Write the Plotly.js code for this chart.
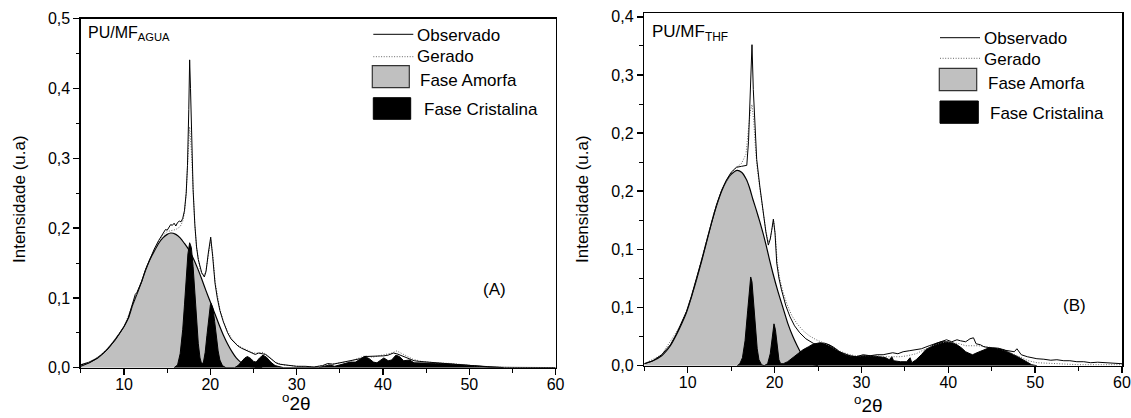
<!DOCTYPE html>
<html>
<head>
<meta charset="utf-8">
<script src="https://cdn.plot.ly/plotly-3.0.1.min.js"></script>
<style>html,body{margin:0;padding:0;background:#fff;}#chart{width:1131px;height:418px;}</style>
</head>
<body>
<div id="chart"></div>
<script>
// ---------- Panel A : PU/MF AGUA ----------
const amorfaA_x = [5,6,7,8,9,10,10.5,11,11.5,12,12.5,13,13.5,14,14.5,15,15.4,16,16.5,17,17.5,18,18.5,19,19.5,20,20.5,21,21.5,22,22.5,23,23.5,24,24.5,25,26];
const amorfaA_y = [0.004,0.008,0.015,0.026,0.041,0.059,0.071,0.090,0.106,0.122,0.140,0.155,0.167,0.178,0.186,0.191,0.193,0.191,0.186,0.178,0.169,0.157,0.143,0.127,0.110,0.094,0.078,0.062,0.047,0.034,0.023,0.014,0.008,0.004,0.002,0.001,0];

const cristA_x = [15.8,16.2,16.5,16.8,17.0,17.2,17.4,17.6,17.8,18.0,18.2,18.4,18.6,18.8,19.0,19.2,19.4,19.6,19.8,20.0,20.1,20.3,20.5,20.7,20.9,21.1,21.4,21.8,22.8,23.2,23.6,24.0,24.3,24.7,25.0,25.3,25.7,26.1,26.5,27.0,27.5,28.0,28.5,32.5,33.2,33.8,34.4,35.0,35.6,36.2,36.8,37.4,37.9,38.4,38.9,39.3,39.7,40.1,40.6,41.0,41.5,41.9,42.4,42.8,43.1,43.6,44.2,45,46,47,48,49,50,51,52,53,54];
const cristA_y = [0,0.004,0.02,0.055,0.09,0.13,0.163,0.179,0.172,0.145,0.105,0.066,0.035,0.014,0.005,0.008,0.022,0.046,0.074,0.090,0.092,0.085,0.066,0.044,0.024,0.011,0.003,0,0,0.003,0.009,0.014,0.016,0.013,0.009,0.008,0.014,0.018,0.015,0.008,0.003,0.001,0,0,0.002,0.004,0.002,0.004,0.007,0.008,0.008,0.012,0.016,0.013,0.008,0.007,0.011,0.014,0.010,0.011,0.018,0.016,0.010,0.011,0.011,0.007,0.007,0.007,0.006,0.006,0.005,0.004,0.003,0.002,0.001,0.0005,0];

const obsA_x = [5,6,7,8,9,10,10.5,11,11.3,11.5,11.7,12,12.5,13,13.5,14,14.5,14.8,15.0,15.2,15.4,15.6,15.8,16.0,16.2,16.4,16.6,16.8,17.0,17.2,17.35,17.5,17.6,17.7,17.8,17.9,18.0,18.2,18.4,18.6,18.8,19.0,19.3,19.5,19.76,20.04,20.27,20.54,20.8,21.1,21.5,22.0,22.4,22.8,23.2,23.6,24.0,24.4,24.8,25.2,25.6,26.0,26.4,26.8,27.2,27.6,28.0,28.5,29,30,31,32,33,33.6,34.2,35,35.8,36.6,37.4,37.9,38.5,39.1,39.6,40.1,40.6,41.2,41.6,42.0,42.5,43.0,43.6,44.2,45.2,46.4,47.6,48.8,50,51,52.3,54,56,58,60];
const obsA_y = [0.002,0.007,0.014,0.025,0.040,0.059,0.072,0.091,0.105,0.108,0.113,0.122,0.141,0.157,0.170,0.182,0.192,0.198,0.197,0.202,0.205,0.204,0.207,0.203,0.208,0.210,0.209,0.214,0.225,0.250,0.29,0.37,0.441,0.40,0.34,0.29,0.255,0.205,0.173,0.155,0.145,0.136,0.130,0.138,0.164,0.187,0.159,0.121,0.100,0.082,0.066,0.050,0.041,0.036,0.031,0.028,0.026,0.024,0.021,0.019,0.021,0.020,0.019,0.015,0.011,0.007,0.005,0.004,0.003,0.002,0.002,0.001,0.003,0.006,0.005,0.007,0.009,0.010,0.013,0.016,0.016,0.017,0.016,0.017,0.018,0.021,0.020,0.018,0.015,0.013,0.010,0.009,0.008,0.007,0.006,0.005,0.003,0.002,0.001,0.0005,0.0003,0.0002,0.0002];

const gerA_x = [5,6,7,8,9,10,11,12,13,14,14.5,15,15.5,16,16.5,16.8,17.0,17.2,17.4,17.6,17.8,18.0,18.2,18.4,18.6,18.8,19.0,19.3,19.5,19.8,20.05,20.3,20.55,21.1,21.5,22.0,22.4,23.0,23.6,24.3,25.0,25.6,26.1,26.8,27.5,28.5,30,32,33.8,35,36.2,37.9,38.8,39.5,40.1,41.0,41.6,42.2,42.8,43.5,44.5,46,48,50,52,55,60];
const gerA_y = [0.003,0.008,0.015,0.026,0.041,0.059,0.090,0.122,0.156,0.181,0.190,0.195,0.197,0.198,0.202,0.210,0.222,0.25,0.30,0.345,0.31,0.25,0.205,0.172,0.153,0.142,0.135,0.132,0.140,0.167,0.183,0.160,0.123,0.084,0.067,0.052,0.043,0.034,0.029,0.025,0.021,0.021,0.022,0.016,0.008,0.004,0.002,0.001,0.005,0.007,0.009,0.017,0.015,0.017,0.018,0.021,0.024,0.020,0.016,0.012,0.009,0.007,0.006,0.003,0.001,0.0003,0.0001];

// ---------- Panel B : PU/MF THF ----------
const amorfaB_x = [5,6,7,8,8.7,9.3,9.84,10.4,11,11.6,12.14,12.7,13.3,13.9,14.44,15,15.7,16.2,16.74,17.1,17.5,17.9,18.28,18.7,19.05,19.4,19.8,20.4,20.97,21.5,22.12,22.6,23.08,23.5,24,24.5,25];
const amorfaB_y = [0.002,0.005,0.010,0.020,0.031,0.042,0.053,0.068,0.086,0.105,0.123,0.142,0.160,0.175,0.185,0.192,0.196,0.194,0.187,0.179,0.167,0.156,0.145,0.132,0.120,0.107,0.093,0.074,0.058,0.043,0.029,0.020,0.012,0.007,0.003,0.001,0];

const cristB_x = [15.7,16.0,16.3,16.6,16.9,17.1,17.25,17.4,17.6,17.8,18.0,18.2,18.5,18.8,19.2,19.5,19.75,19.93,20.1,20.3,20.5,20.7,21.0,21.5,22.1,22.7,23.27,23.9,24.4,25.2,25.8,26.3,26.9,27.5,28.1,28.7,29.4,30.2,31.0,32.1,32.8,33.2,33.5,33.7,34.5,35.2,35.6,35.8,36.3,36.9,37.4,38.0,38.5,39.2,39.9,40.5,41.0,41.5,42.0,42.5,42.8,43.3,44.1,44.7,45.2,45.8,46.4,47.0,47.5,48.0,48.6,49.1,49.6,50.2];
const cristB_y = [0,0.002,0.008,0.025,0.055,0.078,0.089,0.084,0.062,0.036,0.017,0.006,0.001,0,0.002,0.012,0.033,0.042,0.036,0.017,0.006,0.002,0.002,0.004,0.008,0.012,0.016,0.019,0.0215,0.023,0.0225,0.021,0.018,0.014,0.011,0.0095,0.009,0.010,0.010,0.009,0.008,0.006,0.009,0.005,0.004,0.004,0.008,0.003,0.006,0.011,0.016,0.019,0.022,0.024,0.024,0.023,0.021,0.018,0.014,0.012,0.011,0.013,0.016,0.018,0.018,0.0175,0.016,0.013,0.011,0.009,0.006,0.003,0.001,0];

const obsB_x = [5,6,7,8,8.7,9.3,9.84,10.4,11,11.6,12.14,12.7,13.3,13.9,14.44,15,15.6,16.2,16.8,17.0,17.17,17.3,17.4,17.55,17.74,17.94,18.3,18.7,19.0,19.28,19.5,19.67,19.86,20.05,20.25,20.5,20.8,21.3,21.78,22.3,22.9,23.6,24.45,25.2,26.0,26.8,27.4,27.9,28.7,29.4,30.2,31.0,31.8,32.5,33.0,33.6,34.2,34.8,35.5,36.3,36.9,37.8,38.4,39.2,39.8,40.4,41.0,41.4,42.0,42.5,42.9,43.2,43.7,44.1,44.8,45.6,46.4,47.1,47.6,47.9,48.4,49.1,50.2,51.0,51.8,52.5,53.3,54.0,54.8,55.6,56.4,57.2,58.0,58.8,59.4,60];
const obsB_y = [0.002,0.005,0.011,0.021,0.032,0.043,0.054,0.069,0.087,0.106,0.124,0.143,0.161,0.176,0.186,0.194,0.199,0.200,0.201,0.225,0.267,0.307,0.322,0.277,0.234,0.207,0.180,0.153,0.134,0.121,0.127,0.136,0.147,0.133,0.103,0.088,0.076,0.060,0.049,0.040,0.033,0.027,0.0225,0.020,0.0175,0.016,0.014,0.0125,0.010,0.009,0.011,0.010,0.011,0.011,0.012,0.013,0.012,0.014,0.015,0.016,0.017,0.020,0.022,0.024,0.026,0.024,0.026,0.025,0.024,0.027,0.028,0.022,0.021,0.019,0.018,0.017,0.016,0.015,0.014,0.017,0.011,0.009,0.007,0.0065,0.0055,0.006,0.005,0.005,0.004,0.004,0.003,0.0035,0.003,0.0025,0.002,0.002];

const gerB_x = [5,7,9,10,11,12,13,14,15,15.6,16.2,16.7,17.0,17.2,17.4,17.6,17.8,18.0,18.3,18.7,19.0,19.28,19.5,19.7,19.9,20.1,20.3,20.6,21.0,21.5,22.0,22.6,23.3,24.0,24.8,25.6,26.5,27.4,28.3,29.2,30.2,31.5,32.8,33.6,34.5,35.3,36.3,37.2,38.2,39.2,39.9,40.6,41.3,42.0,42.8,43.5,44.3,45.2,46.2,47.2,48.2,49.2,50.2,52,55,60];
const gerB_y = [0.002,0.011,0.038,0.058,0.087,0.120,0.153,0.178,0.193,0.199,0.203,0.212,0.235,0.255,0.262,0.245,0.218,0.198,0.178,0.152,0.135,0.124,0.127,0.137,0.145,0.130,0.104,0.087,0.073,0.060,0.050,0.042,0.035,0.030,0.026,0.023,0.019,0.015,0.012,0.010,0.010,0.010,0.009,0.009,0.009,0.010,0.012,0.016,0.020,0.023,0.024,0.023,0.022,0.020,0.020,0.020,0.019,0.018,0.016,0.013,0.009,0.005,0.003,0.002,0.001,0.001];

// tick labels
const xTicks = [10,20,30,40,50,60];
const xMinor = [5,15,25,35,45,55];
const yTicksA = [0,0.1,0.2,0.3,0.4,0.5];
const yTextA = ['0,0','0,1','0,2','0,3','0,4','0,5'];
const yMinorA = [0.05,0.15,0.25,0.35,0.45];
const yTicksB = [0,0.0583,0.1167,0.175,0.2333,0.2917,0.35];
const yTextB = ['0,0','0,1','0,1','0,2','0,2','0,3','0,4'];
const yMinorB = [0.0292,0.0875,0.1458,0.2042,0.2625,0.3208];
const legendNames = ['Observado','Gerado','Fase Amorfa','Fase Cristalina'];

const FONT = 'Liberation Sans, Arial, Helvetica, sans-serif';
const DOTS = '1px,1.6px';
const W = 1131, H = 418;
const px = v => v / W;
const py = v => 1 - v / H;

function traces(ax, ay, amx, amy, crx, cry, gx, gy, ox, oy) {
  return [
    {x: amx, y: amy, xaxis: ax, yaxis: ay, type: 'scatter', mode: 'lines', fill: 'tozeroy',
     fillcolor: '#c0c0c0', line: {color: '#000', width: 1.2, shape: 'spline', smoothing: 0.6}, name: legendNames[2]},
    {x: crx, y: cry, xaxis: ax, yaxis: ay, type: 'scatter', mode: 'lines', fill: 'tozeroy',
     fillcolor: '#000', line: {color: '#000', width: 1}, name: legendNames[3]},
    {x: gx, y: gy, xaxis: ax, yaxis: ay, type: 'scatter', mode: 'lines',
     line: {color: '#666', width: 1, dash: DOTS}, name: legendNames[1]},
    {x: ox, y: oy, xaxis: ax, yaxis: ay, type: 'scatter', mode: 'lines',
     line: {color: '#000', width: 1}, name: legendNames[0]}
  ];
}

const data = [].concat(
  traces('x', 'y', amorfaA_x, amorfaA_y, cristA_x, cristA_y, gerA_x, gerA_y, obsA_x, obsA_y),
  traces('x2', 'y2', amorfaB_x, amorfaB_y, cristB_x, cristB_y, gerB_x, gerB_y, obsB_x, obsB_y)
);

function xAxis(domain, anchor) {
  return {domain: domain, anchor: anchor, range: [5, 60], tickmode: 'array', tickvals: xTicks,
    ticktext: xTicks.map(String), ticks: 'outside', ticklen: 6, tickwidth: 1.5, tickcolor: '#000',
    ticklabelstandoff: -4,
    minor: {tickmode: 'array', tickvals: xMinor, ticks: 'outside', ticklen: 3.5, tickwidth: 1, tickcolor: '#000'},
    showline: true, linecolor: '#000', linewidth: 1.5, mirror: true, showgrid: false, zeroline: false,
    tickfont: {family: FONT, size: 16, color: '#000'}, automargin: false, fixedrange: true};
}
function yAxis(domain, anchor, range, tv, tt, mv) {
  return {domain: domain, anchor: anchor, range: range, tickmode: 'array', tickvals: tv, ticktext: tt,
    ticks: 'outside', ticklen: 6, tickwidth: 1.5, tickcolor: '#000',
    minor: {tickmode: 'array', tickvals: mv, ticks: 'outside', ticklen: 3.5, tickwidth: 1, tickcolor: '#000'},
    showline: true, linecolor: '#000', linewidth: 1.5, mirror: true, showgrid: false, zeroline: false,
    tickfont: {family: FONT, size: 16, color: '#000'}, automargin: false, fixedrange: true};
}

function legendShapes(x0, yObs, yGer, grayBox, blackBox) {
  return [
    {type: 'line', xref: 'paper', yref: 'paper', x0: px(x0), x1: px(x0 + 40), y0: py(yObs), y1: py(yObs), line: {color: '#000', width: 1}},
    {type: 'line', xref: 'paper', yref: 'paper', x0: px(x0), x1: px(x0 + 40), y0: py(yGer), y1: py(yGer), line: {color: '#666', width: 1, dash: DOTS}},
    {type: 'rect', xref: 'paper', yref: 'paper', x0: px(grayBox[0]), x1: px(grayBox[1]), y0: py(grayBox[2]), y1: py(grayBox[3]), fillcolor: '#c0c0c0', line: {color: '#333', width: 1.2}},
    {type: 'rect', xref: 'paper', yref: 'paper', x0: px(blackBox[0]), x1: px(blackBox[1]), y0: py(blackBox[2]), y1: py(blackBox[3]), fillcolor: '#000', line: {color: '#000', width: 1}}
  ];
}
function ann(text, x, y, size, opts) {
  return Object.assign({text: text, xref: 'paper', yref: 'paper', x: px(x), y: py(y), showarrow: false,
    xanchor: 'left', yanchor: 'middle', font: {family: FONT, size: size, color: '#000'}}, opts || {});
}

const shapes = [].concat(
  legendShapes(373.3, 34.3, 56.7, [372.3, 409.3, 65.7, 87.7], [373.3, 410.7, 97.7, 119.3]),
  legendShapes(940, 37.7, 58.3, [939.3, 976.7, 68.3, 90.7], [940, 978.3, 101, 123.3])
);

const annotations = [
  ann(legendNames[0], 415, 35, 17), ann(legendNames[1], 415, 57, 17),
  ann(legendNames[2], 418, 81, 17), ann(legendNames[3], 421.5, 109.5, 17),
  ann(legendNames[0], 982, 38, 17), ann(legendNames[1], 982, 59, 17),
  ann(legendNames[2], 986, 84, 17), ann(legendNames[3], 988, 113, 17),
  ann('PU/MF<sub>AGUA</sub>', 85.5, 33, 16),
  ann('PU/MF<sub>THF</sub>', 650, 33, 17),
  ann('(A)', 494, 289, 17, {xanchor: 'center'}),
  ann('(B)', 1074, 305, 17, {xanchor: 'center'}),
  ann('Intensidade (u.a)', 19, 199, 17, {xanchor: 'center', textangle: -90}),
  ann('Intensidade (u.a)', 582, 199, 17, {xanchor: 'center', textangle: -90}),
  ann('<sup>o</sup>2θ', 296, 402, 19, {xanchor: 'center'}),
  ann('<sup>o</sup>2θ', 868, 404, 19, {xanchor: 'center'})
];

const layout = {
  width: W, height: H, margin: {l: 0, r: 0, t: 0, b: 0},
  paper_bgcolor: '#fff', plot_bgcolor: '#fff', showlegend: false,
  font: {family: FONT, color: '#000'},
  xaxis: xAxis([80.9 / W, 555.6 / W], 'y'),
  yaxis: yAxis([1 - 367.7 / H, 1 - 18.7 / H], 'x', [0, 0.5], yTicksA, yTextA, yMinorA),
  xaxis2: xAxis([644.3 / W, 1122 / W], 'y2'),
  yaxis2: yAxis([1 - 365.7 / H, 1 - 13.3 / H], 'x2', [0, 0.3535], yTicksB, yTextB, yMinorB),
  shapes: shapes, annotations: annotations
};

Plotly.newPlot('chart', data, layout, {staticPlot: true, displayModeBar: false});
</script>
</body>
</html>
